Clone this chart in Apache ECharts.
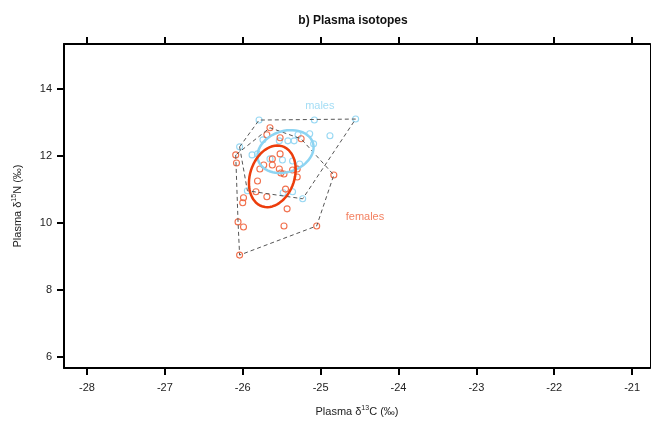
<!DOCTYPE html>
<html>
<head>
<meta charset="utf-8">
<script src="https://cdn.jsdelivr.net/npm/echarts@6/dist/echarts.min.js"></script>
<style>
  html, body { margin: 0; padding: 0; background: #fff; }
  #chart { width: 652px; height: 423px; }
</style>
</head>
<body>
<div id="chart"></div>
<script>
// plasma d13C / d15N, one [x, y] per bird
const males = [
  [-25.79, 13.07], [-25.08, 13.07], [-24.55, 13.10], [-26.04, 12.27],
  [-25.74, 12.48], [-25.53, 12.45], [-25.42, 12.45], [-25.34, 12.45],
  [-25.29, 12.63], [-25.14, 12.66], [-24.88, 12.60], [-25.09, 12.36],
  [-25.88, 12.03], [-25.81, 12.06], [-25.65, 11.91], [-25.49, 11.88],
  [-25.36, 11.85], [-25.27, 11.76], [-25.94, 10.96], [-25.48, 10.90],
  [-25.36, 10.93], [-25.23, 10.72],
];

const females = [
  [-25.65, 12.84], [-25.69, 12.63], [-25.52, 12.54], [-26.09, 12.03],
  [-26.08, 11.79], [-25.52, 12.06], [-25.62, 11.91], [-25.73, 11.73],
  [-25.62, 11.73], [-25.53, 11.61], [-25.51, 11.49], [-25.47, 11.46],
  [-25.36, 11.58], [-25.78, 11.61], [-25.81, 11.25], [-25.25, 12.51],
  [-25.30, 11.61], [-25.30, 11.37], [-24.83, 11.43], [-25.99, 10.75],
  [-26.00, 10.60], [-25.83, 10.93], [-25.69, 10.78], [-25.45, 11.01],
  [-25.43, 10.42], [-25.47, 9.91], [-26.06, 10.03], [-25.99, 9.88],
  [-26.04, 9.04], [-25.05, 9.91],
];

// standard ellipses: [cx, cy, sdX, sdY, rho]
const maleEllipse = [-25.45, 12.13, 0.36, 0.64, 0.2];
const femaleEllipse = [-25.62, 11.39, 0.30, 0.92, 0.22];

const xTicks = [-28, -27, -26, -25, -24, -23, -22, -21];
const yTicks = [6, 8, 10, 12, 14];

const maleLabelAt = [-25.01, 13.49];
const femaleLabelAt = [-24.43, 10.18];

const BLUE = "#8dd4f2";
const RED = "#f0613a";
const RED_LINE = "#ec3d0c";

function cross(o, a, b) {
  return (a[0] - o[0]) * (b[1] - o[1]) - (a[1] - o[1]) * (b[0] - o[0]);
}

// convex hull (monotone chain), closed
function hull(points) {
  const p = points.slice().sort((a, b) => a[0] - b[0] || a[1] - b[1]);
  const lower = [];
  for (const pt of p) {
    while (lower.length >= 2 && cross(lower[lower.length - 2], lower[lower.length - 1], pt) <= 0) lower.pop();
    lower.push(pt);
  }
  const upper = [];
  for (let i = p.length - 1; i >= 0; i--) {
    const pt = p[i];
    while (upper.length >= 2 && cross(upper[upper.length - 2], upper[upper.length - 1], pt) <= 0) upper.pop();
    upper.push(pt);
  }
  upper.pop();
  lower.pop();
  const h = lower.concat(upper);
  h.push(h[0]);
  return h;
}

function ellipse(e) {
  const [cx, cy, sx, sy, rho] = e;
  const out = [];
  const k = Math.sqrt(1 - rho * rho);
  for (let i = 0; i <= 120; i++) {
    const t = (i / 120) * Math.PI * 2;
    out.push([cx + sx * Math.cos(t), cy + sy * (rho * Math.cos(t) + k * Math.sin(t))]);
  }
  return out;
}

function hullSeries(points) {
  return {
    type: "line",
    data: hull(points),
    symbol: "none",
    silent: true,
    lineStyle: { color: "#555", width: 1, type: [4, 3] },
    z: 3,
  };
}

function pointSeries(points, color) {
  return {
    type: "scatter",
    data: points,
    symbol: "circle",
    symbolSize: 6,
    itemStyle: { color: "transparent", borderColor: color, borderWidth: 1.1, opacity: 0.9 },
    z: 2,
  };
}

function ellipseSeries(e, color) {
  return {
    type: "line",
    data: ellipse(e),
    symbol: "none",
    smooth: false,
    silent: true,
    lineStyle: { color: color, width: 2.5 },
    z: 4,
  };
}

function labelSeries(at, text, color) {
  return {
    type: "scatter",
    data: [at],
    symbolSize: 0,
    silent: true,
    label: {
      show: true,
      position: "inside",
      formatter: text,
      color: color,
      fontSize: 11,
      fontFamily: "Liberation Sans, Arial",
    },
    z: 5,
  };
}

const tickFont = { color: "#222", fontSize: 11, fontFamily: "Liberation Sans, Arial" };

const chart = echarts.init(document.getElementById("chart"));
chart.setOption({
  animation: false,
  title: {
    text: "b) Plasma isotopes",
    left: 348,
    textAlign: "center",
    top: 10,
    textStyle: { fontSize: 12, fontWeight: "bold", color: "#111", fontFamily: "Liberation Sans, Arial" },
  },
  grid: { left: 64, right: 2, top: 44, bottom: 55, containLabel: false },
  xAxis: [
    {
      type: "value",
      position: "bottom",
      min: -28.295,
      max: -20.77,
      splitLine: { show: false },
      axisLine: { show: true, onZero: false, lineStyle: { color: "#000", width: 2 } },
      axisTick: { show: true, customValues: xTicks, length: 7, lineStyle: { color: "#000", width: 2 } },
      axisLabel: { show: true, customValues: xTicks, margin: 14, ...tickFont },
      name: "{a|Plasma δ}{s|13}{a|C (‰)}",
      nameLocation: "middle",
      nameGap: 37,
      nameTextStyle: {
        rich: {
          a: { fontSize: 11, color: "#222", fontFamily: "Liberation Sans, Arial" },
          s: { fontSize: 7, color: "#222", verticalAlign: "top", padding: [0, 0, 6, 0], fontFamily: "Liberation Sans, Arial" },
        },
      },
    },
    {
      type: "value",
      position: "top",
      min: -28.295,
      max: -20.77,
      splitLine: { show: false },
      axisLine: { show: true, onZero: false, lineStyle: { color: "#000", width: 2 } },
      axisTick: { show: true, customValues: xTicks, length: 7, lineStyle: { color: "#000", width: 2 } },
      axisLabel: { show: false },
    },
  ],
  yAxis: [
    {
      type: "value",
      position: "left",
      min: 5.67,
      max: 15.34,
      splitLine: { show: false },
      axisLine: { show: true, onZero: false, lineStyle: { color: "#000", width: 2 } },
      axisTick: { show: true, customValues: yTicks, length: 7, lineStyle: { color: "#000", width: 2 } },
      axisLabel: { show: true, customValues: yTicks, margin: 12, ...tickFont },
      name: "{a|Plasma δ}{s|15}{a|N (‰)}",
      nameLocation: "middle",
      nameGap: 40,
      nameRotate: 90,
      nameTextStyle: {
        rich: {
          a: { fontSize: 11, color: "#222", fontFamily: "Liberation Sans, Arial" },
          s: { fontSize: 7, color: "#222", verticalAlign: "top", padding: [0, 0, 6, 0], fontFamily: "Liberation Sans, Arial" },
        },
      },
    },
    {
      type: "value",
      position: "right",
      min: 5.67,
      max: 15.34,
      splitLine: { show: false },
      axisLine: { show: true, onZero: false, lineStyle: { color: "#000", width: 1 } },
      axisTick: { show: false },
      axisLabel: { show: false },
    },
  ],
  series: [
    pointSeries(males, BLUE),
    pointSeries(females, RED),
    hullSeries(males),
    hullSeries(females),
    ellipseSeries(maleEllipse, BLUE),
    ellipseSeries(femaleEllipse, RED_LINE),
    labelSeries(maleLabelAt, "males", BLUE),
    labelSeries(femaleLabelAt, "females", RED),
  ],
});
</script>
</body>
</html>
